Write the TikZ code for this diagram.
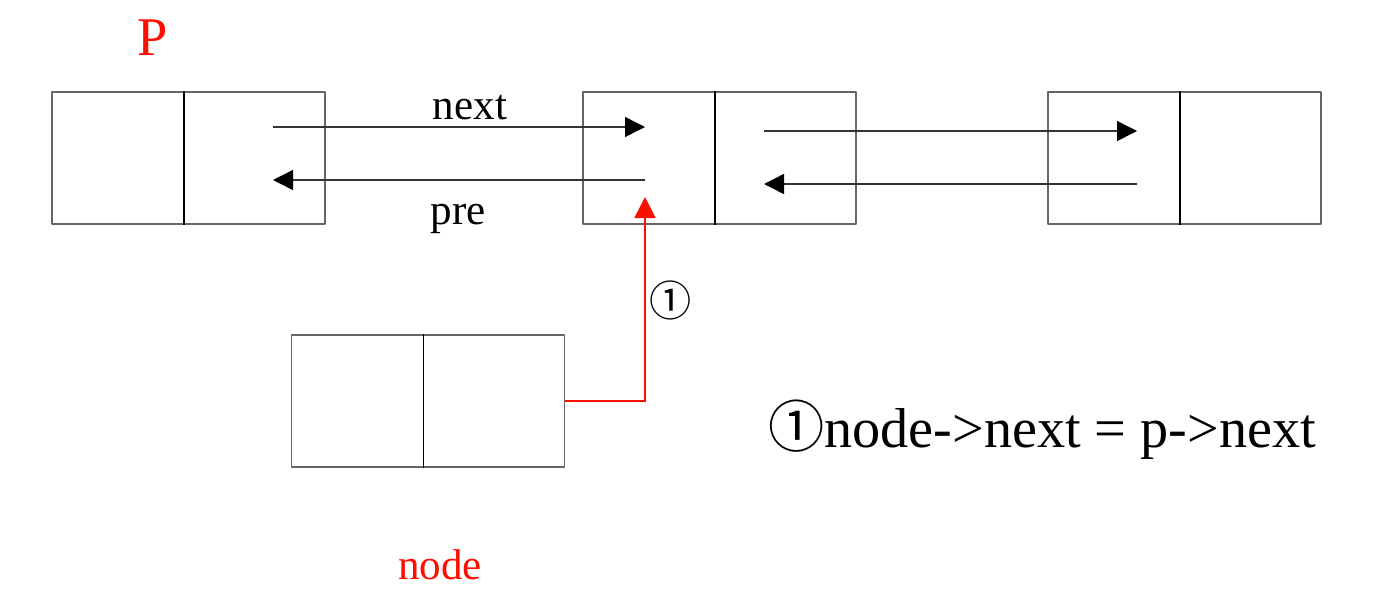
\documentclass[tikz,border=0pt]{standalone}
\usepackage{fontspec}
\setmainfont{Liberation Serif}
\newfontfamily\symfont{Noto Sans CJK SC}
\usetikzlibrary{arrows.meta, positioning, calc}

\begin{document}
\begin{tikzpicture}[
    cell/.style={draw=black!60, line width=1.1pt, minimum width=5.46cm, minimum height=2.64cm,
                 inner sep=0pt, line join=round},
    divider/.style={black, line width=0.8pt},
    arr/.style={-{Triangle[length=0.4cm, width=0.4cm, color=black]}, black!80, line width=0.8pt},
    redarr/.style={-{Triangle[length=0.42cm, width=0.42cm]}, red!90!orange, line width=0.9pt},
    lbl/.style={font=\fontsize{24.5}{28}\selectfont, inner sep=0pt, text=black},
    redlbl/.style={lbl, text=red!90!orange},
]
\useasboundingbox (0,0) rectangle (27.58,-11.94);

% === List nodes ===
\node[cell] (p) at (3.77,-3.16) {};
\node[cell] (q) at (14.39,-3.16) {};
\node[cell] (r) at (23.69,-3.16) {};
\node[cell] (nd) at (8.56,-8.02) {};

\foreach \b in {p,q,r,nd}
    \draw[divider] ([xshift=2.66cm]\b.north west) -- ([xshift=2.66cm]\b.south west);

% === Labels ===
\node[redlbl, font=\fontsize{31}{34}\selectfont] (plbl) at (3.06,-0.76) {P};
\node[redlbl] (ndlbl) at (8.8,-11.3) {node};

% === Links between p and q ===
\coordinate (pnext) at (5.46,-2.54);
\coordinate (qin) at (12.9,-2.54);
\coordinate (qpre) at (12.9,-3.6);
\coordinate (pin) at (5.46,-3.6);
\draw[arr] (pnext) -- (qin);
\draw[arr] (qpre) -- (pin);
\node[lbl] (nextlbl) at (9.4,-2.16) {next};
\node[lbl] (prelbl) at (9.16,-4.38) {pre};

% === Links between q and r ===
\coordinate (qnext) at (15.28,-2.62);
\coordinate (rin) at (22.74,-2.62);
\coordinate (rpre) at (22.74,-3.68);
\coordinate (qback) at (15.28,-3.68);
\draw[arr] (qnext) -- (rin);
\draw[arr] (rpre) -- (qback);

% === Step 1: node->next ===
\coordinate (qtip) at (12.9,-3.94);
\draw[redarr] (nd.east) -| (qtip);
\node[lbl, font=\symfont\fontsize{24}{28}\selectfont] (one) at (13.42,-6.0) {①};

\node[lbl, font=\fontsize{32}{36}\selectfont] (step) at (20.84,-8.6)
    {{\symfont\fontsize{32}{36}\selectfont ①}node->next = p->next};

\end{tikzpicture}
\end{document}
